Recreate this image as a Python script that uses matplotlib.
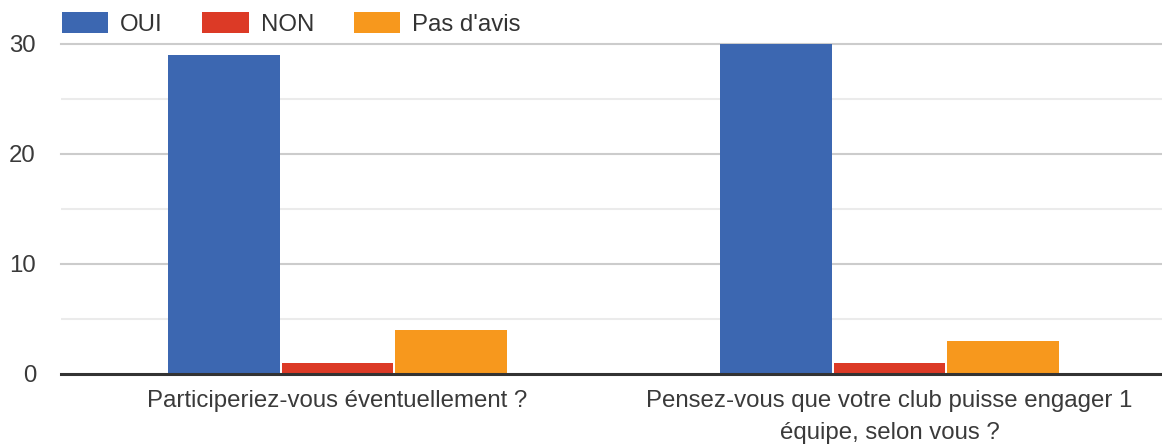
import matplotlib.pyplot as plt
import numpy as np

# data
questions = ["Participeriez-vous éventuellement ?",
             "Pensez-vous que votre club puisse engager 1\néquipe, selon vous ?"]
series = ["OUI", "NON", "Pas d'avis"]
oui = [29, 30]
non = [1, 1]
pas_avis = [4, 3]
colors = ["#3c67b1", "#dc3a26", "#f7981d"]

plt.rcParams['font.family'] = ['Liberation Sans', 'DejaVu Sans']

fig = plt.figure(figsize=(11.62, 4.46), dpi=100)
ax = fig.add_axes([61 / 1162, 1 - 373.5 / 446, 1101 / 1162, 330 / 446])

x = np.arange(len(questions))
pitch = 0.2054
width = 0.2018
for i, (name, vals) in enumerate(zip(series, [oui, non, pas_avis])):
    ax.bar(x + (i - 1) * pitch, vals, width, color=colors[i], label=name, zorder=3)

ax.set_xlim(-0.5009, 1.4937)
ax.set_ylim(0, 30)

# grid lines
for v in [5, 15, 25]:
    ax.axhline(v, color="#ebebeb", lw=1.5, zorder=1)
for v in [10, 20, 30]:
    ax.axhline(v, color="#cccccc", lw=1.5, zorder=1, clip_on=False)
ax.axhline(0, color="#333333", lw=2.2, zorder=4, clip_on=False)

for s in ax.spines.values():
    s.set_visible(False)

ax.set_yticks([0, 10, 20, 30])
ax.set_xticks(x)
ax.set_xticklabels(questions, linespacing=1.55)
ax.tick_params(axis='both', length=0, labelsize=17.3, labelcolor="#3a3a3a")
ax.tick_params(axis='x', pad=12)
ax.tick_params(axis='y', pad=18)

leg = fig.legend(loc='center left', bbox_to_anchor=(61.5 / 1162, 1 - 24 / 446),
                 ncol=3, frameon=False, fontsize=17.3,
                 handlelength=1.92, handleheight=0.92, handletextpad=0.5,
                 columnspacing=1.67, borderpad=0, borderaxespad=0)
for t in leg.get_texts():
    t.set_color("#333333")

fig.savefig("out.png", dpi=100)
